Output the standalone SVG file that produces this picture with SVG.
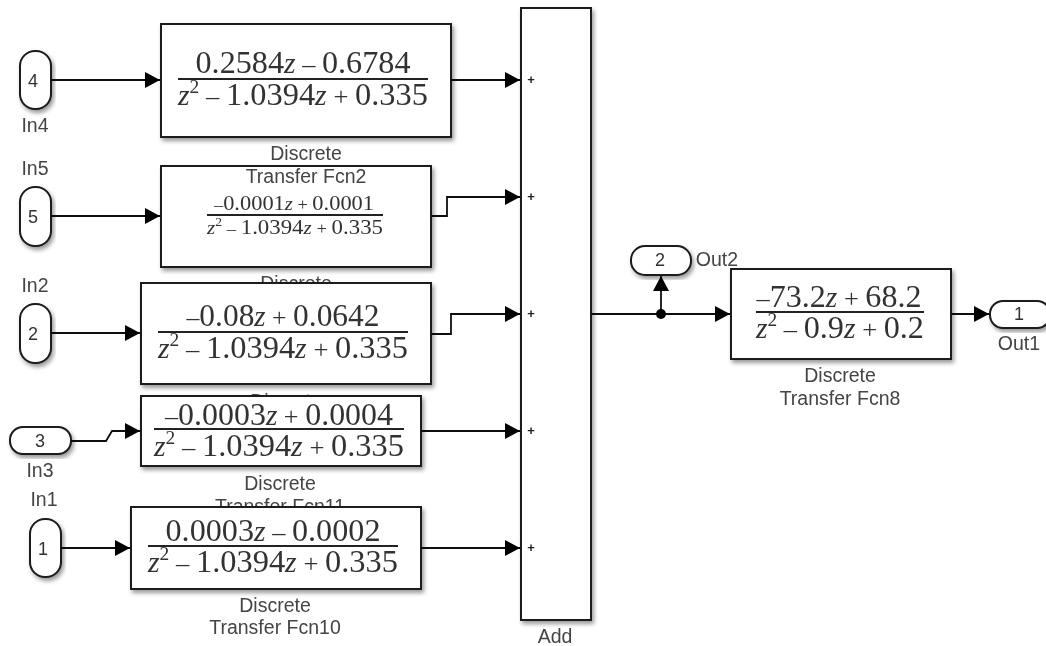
<svg xmlns="http://www.w3.org/2000/svg" width="1046" height="646" viewBox="0 0 1046 646">
<style>
.b{fill:#fff;stroke:#1a1a1a;stroke-width:2;filter:url(#s)}
.l{font:19.5px "Liberation Sans",Arial,sans-serif;fill:#444;text-anchor:middle}
.n{font-family:"Liberation Sans",Arial,sans-serif;font-size:18px;fill:#333;text-anchor:middle}
.f{font-family:"Liberation Serif","Times New Roman",serif;fill:#333;text-anchor:middle}
.r{stroke:#222;fill:none;stroke-width:2}
.c{fill:none;stroke:#111;stroke-width:1.8}
.p{font:bold 13px "Liberation Sans",Arial,sans-serif;fill:#222;text-anchor:middle}
.z{font-style:italic;font-size:92%}
.u{font-size:60%}
.o{font-size:82%}
</style>
<defs>
<filter id="s" x="-10%" y="-10%" width="125%" height="125%"><feDropShadow dx="2" dy="3" stdDeviation="2" flood-color="#000" flood-opacity=".4"/></filter>
<filter id="soft" x="0" y="0" width="100%" height="100%" filterUnits="userSpaceOnUse"><feGaussianBlur stdDeviation="0.5"/></filter>
<marker id="a" markerUnits="userSpaceOnUse" markerWidth="16" markerHeight="16" refX="15" refY="8" orient="auto"><path d="M0 0L15 8L0 16Z" fill="#000"/></marker>
</defs>
<g filter="url(#soft)">
<g id="tf5"><rect class="b" x="161" y="166" width="270" height="101"/><text class="l" x="296" y="290">Discrete</text>
<text class="f" font-size="21" x="294" y="210" textLength="160" lengthAdjust="spacingAndGlyphs"><tspan class="o">–</tspan>0.0001<tspan class="z">z</tspan><tspan class="o"> + </tspan>0.0001</text><path class="r" stroke="#777" d="M207 215H383"/><text class="f" font-size="21" x="295" y="234" textLength="176" lengthAdjust="spacingAndGlyphs"><tspan class="z">z</tspan><tspan class="u" dy="-8">2</tspan><tspan class="o" dy="8"> – </tspan>1.0394<tspan class="z">z</tspan><tspan class="o"> + </tspan>0.335</text></g>
<g id="tf2"><rect class="b" x="161" y="24" width="290" height="113"/><text class="f" font-size="31" x="303" y="73" textLength="215" lengthAdjust="spacingAndGlyphs">0.2584<tspan class="z">z</tspan><tspan class="o"> – </tspan>0.6784</text><path class="r" d="M178 79H428"/><text class="f" font-size="31" x="303" y="105" textLength="250" lengthAdjust="spacingAndGlyphs"><tspan class="z">z</tspan><tspan class="u" dy="-12">2</tspan><tspan class="o" dy="12"> – </tspan>1.0394<tspan class="z">z</tspan><tspan class="o"> + </tspan>0.335</text><text class="l" x="306" y="160">Discrete</text><text class="l" x="306" y="183">Transfer Fcn2</text></g>
<g id="tf3"><rect class="b" x="141" y="283" width="290" height="101"/><text class="l" x="286" y="408">Discrete</text><text class="f" font-size="31" x="283" y="326" textLength="193" lengthAdjust="spacingAndGlyphs"><tspan class="o">–</tspan>0.08<tspan class="z">z</tspan><tspan class="o"> + </tspan>0.0642</text><path class="r" d="M158 332H408"/><text class="f" font-size="31" x="283" y="358" textLength="250" lengthAdjust="spacingAndGlyphs"><tspan class="z">z</tspan><tspan class="u" dy="-12">2</tspan><tspan class="o" dy="12"> – </tspan>1.0394<tspan class="z">z</tspan><tspan class="o"> + </tspan>0.335</text></g>
<g id="tf11"><text class="l" x="280" y="490">Discrete</text><text class="l" x="280" y="513">Transfer Fcn11</text><rect class="b" x="141" y="396" width="280" height="70"/><text class="f" font-size="31" x="279" y="425" textLength="228" lengthAdjust="spacingAndGlyphs"><tspan class="o">–</tspan>0.0003<tspan class="z">z</tspan><tspan class="o"> + </tspan>0.0004</text><path class="r" d="M154 429H404"/><text class="f" font-size="31" x="279" y="456" textLength="250" lengthAdjust="spacingAndGlyphs"><tspan class="z">z</tspan><tspan class="u" dy="-12">2</tspan><tspan class="o" dy="12"> – </tspan>1.0394<tspan class="z">z</tspan><tspan class="o"> + </tspan>0.335</text></g>
<g id="tf10"><rect class="b" x="131" y="507" width="290" height="82"/><text class="l" x="275" y="612">Discrete</text><text class="l" x="275" y="634">Transfer Fcn10</text><text class="f" font-size="31" x="273" y="541" textLength="215" lengthAdjust="spacingAndGlyphs">0.0003<tspan class="z">z</tspan><tspan class="o"> – </tspan>0.0002</text><path class="r" d="M148 546H398"/><text class="f" font-size="31" x="273" y="572" textLength="250" lengthAdjust="spacingAndGlyphs"><tspan class="z">z</tspan><tspan class="u" dy="-12">2</tspan><tspan class="o" dy="12"> – </tspan>1.0394<tspan class="z">z</tspan><tspan class="o"> + </tspan>0.335</text></g>
<g id="add"><rect class="b" x="521" y="8" width="70" height="612"/><text class="l" x="555" y="643">Add</text><text class="p" x="531" y="84">+</text><text class="p" x="531" y="201">+</text><text class="p" x="531" y="318">+</text><text class="p" x="531" y="435">+</text><text class="p" x="531" y="552">+</text></g>
<g id="tf8"><rect class="b" x="731" y="269" width="220" height="90"/><text class="f" font-size="31" x="839" y="307" textLength="165" lengthAdjust="spacingAndGlyphs"><tspan class="o">–</tspan>73.2<tspan class="z">z</tspan><tspan class="o"> + </tspan>68.2</text><path class="r" d="M756 312H924"/><text class="f" font-size="31" x="840" y="338" textLength="168" lengthAdjust="spacingAndGlyphs"><tspan class="z">z</tspan><tspan class="u" dy="-12">2</tspan><tspan class="o" dy="12"> – </tspan>0.9<tspan class="z">z</tspan><tspan class="o"> + </tspan>0.2</text><text class="l" x="840" y="382">Discrete</text><text class="l" x="840" y="405">Transfer Fcn8</text></g>
<g id="in4"><rect class="b" x="20" y="51" width="31" height="58" rx="15"/><text class="n" x="33" y="87">4</text><text class="l" x="35" y="132">In4</text></g>
<g id="in5"><rect class="b" x="20" y="187" width="31" height="59" rx="15"/><text class="n" x="33" y="223">5</text><text class="l" x="35" y="175">In5</text></g>
<g id="in2"><rect class="b" x="20" y="304" width="31" height="59" rx="15"/><text class="n" x="33" y="340">2</text><text class="l" x="35" y="292">In2</text></g>
<g id="in3"><rect class="b" x="10" y="427" width="61" height="27" rx="13"/><text class="n" x="40" y="447">3</text><text class="l" x="40" y="477">In3</text></g>
<g id="in1"><rect class="b" x="30" y="519" width="31" height="58" rx="15"/><text class="n" x="43" y="555">1</text><text class="l" x="44" y="506">In1</text></g>
<g id="out2"><rect class="b" x="631" y="246" width="60" height="29" rx="14"/><text class="n" x="660" y="266">2</text><text class="l" x="717" y="266">Out2</text></g>
<g id="out1"><rect class="b" x="990" y="301" width="60" height="27" rx="13"/><text class="n" x="1019" y="320">1</text><text class="l" x="1019" y="350">Out1</text></g>
<g id="connectors">
<path class="c" marker-end="url(#a)" d="M51 80H160"/>
<path class="c" marker-end="url(#a)" d="M451 80H520"/>
<path class="c" marker-end="url(#a)" d="M51 216H160"/>
<path class="c" marker-end="url(#a)" d="M431 216H447V197H520"/>
<path class="c" marker-end="url(#a)" d="M51 333H140"/>
<path class="c" marker-end="url(#a)" d="M431 334H451V314H520"/>
<path class="c" marker-end="url(#a)" d="M71 441H106L112 431H140"/>
<path class="c" marker-end="url(#a)" d="M421 431H520"/>
<path class="c" marker-end="url(#a)" d="M61 548H130"/>
<path class="c" marker-end="url(#a)" d="M421 548H520"/>
<path class="c" marker-end="url(#a)" d="M591 314H730"/>
<path class="c" marker-end="url(#a)" d="M661 314V276"/>
<circle cx="661" cy="314" r="5" fill="#000"/>
<path class="c" marker-end="url(#a)" d="M951 314H989"/>
</g>
</g>
</svg>
